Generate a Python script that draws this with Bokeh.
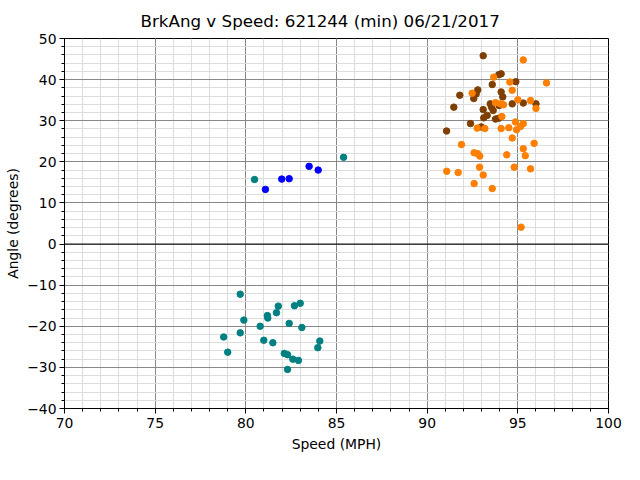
from bokeh.plotting import figure
from bokeh.models import Span, Title, FixedTicker
from bokeh.embed import file_html
from bokeh.resources import INLINE

title_text = "BrkAng v Speed: 621244 (min) 06/21/2017"
x_label = "Speed (MPH)"
y_label = "Angle (degrees)"

x_ticks = [70, 75, 80, 85, 90, 95, 100]
y_ticks = [-40, -30, -20, -10, 0, 10, 20, 30, 40, 50]
x_minor = list(range(70, 101))
y_minor = list(range(-40, 51, 2))

teal_x = [79.69, 81.79, 82.68, 83.0, 81.19, 81.21, 81.69, 79.89, 80.79, 82.39, 83.09,
          78.78, 79.69, 80.99, 81.49, 84.08, 83.97, 79.0, 82.12, 82.3, 82.59, 82.9, 82.3,
          80.48, 85.39]
teal_y = [-12.2, -15.1, -15.0, -14.4, -17.4, -18.0, -16.7, -18.5, -20.0, -19.3, -20.3,
          -22.6, -21.6, -23.4, -24.0, -23.6, -25.2, -26.3, -26.6, -26.9, -28.0, -28.3, -30.5,
          15.7, 21.1]

blue_x = [81.08, 81.98, 82.39, 83.49, 83.99]
blue_y = [13.3, 15.8, 15.9, 18.9, 18.0]

brown_x = [93.09, 93.95, 94.08, 93.59, 94.89, 92.79, 92.70, 92.57, 91.80, 94.08, 94.17,
           91.47, 93.48, 94.69, 95.30, 96.0, 93.55, 93.64, 93.09, 93.97, 93.12, 93.31,
           93.77, 93.95, 92.39, 91.07, 92.99]
brown_y = [45.8, 41.2, 41.4, 38.8, 39.5, 37.5, 36.5, 35.4, 36.2, 37.0, 35.8,
           33.3, 34.1, 34.1, 34.3, 34.1, 33.3, 32.5, 32.7, 33.7, 30.7, 31.3,
           30.4, 30.6, 29.3, 27.5, 28.5]

orange_x = [95.30, 93.67, 94.56, 96.58, 92.48, 94.69, 93.77, 94.03, 94.21, 95.0, 95.70,
            96.0, 94.12, 94.87, 95.3, 95.15, 94.93, 94.69, 92.76, 93.18, 94.08, 94.5,
            91.89, 95.9, 92.59, 92.78, 92.9, 94.39, 95.3, 95.41, 91.08, 91.71, 92.89,
            93.09, 94.80, 95.70, 92.59, 93.59, 95.18]
orange_y = [44.8, 40.6, 39.4, 39.2, 36.7, 37.4, 34.4, 34.1, 33.9, 35.1, 34.9,
            33.0, 31.0, 29.7, 29.3, 28.6, 27.8, 25.8, 28.2, 28.1, 28.1, 28.3,
            24.2, 24.5, 22.2, 22.0, 21.4, 21.7, 23.2, 21.5, 17.7, 17.4, 18.7,
            16.8, 18.7, 18.3, 14.7, 13.5, 4.1]

FONT = "DejaVu Sans"
LBL = "13.9px"

p = figure(width=632, height=472, x_range=(70, 100), y_range=(-40, 50),
           output_backend="svg", toolbar_location=None,
           min_border_left=64, min_border_right=24, min_border_top=38, min_border_bottom=64)
p.background_fill_color = "white"
p.border_fill_color = "white"
p.outline_line_color = "black"
p.outline_line_width = 1

for ax in (p.xaxis[0], p.yaxis[0]):
    ax.axis_line_color = "black"
    ax.major_tick_line_color = "black"
    ax.minor_tick_line_color = "black"
    ax.major_tick_out = 5
    ax.major_tick_in = 0
    ax.minor_tick_out = 3
    ax.minor_tick_in = 0
    ax.major_label_text_font = FONT
    ax.major_label_text_font_size = LBL
    ax.major_label_text_color = "black"
    ax.axis_label_text_font = FONT
    ax.axis_label_text_font_size = LBL
    ax.axis_label_text_font_style = "normal"
    ax.axis_label_text_color = "black"

x_ticker = FixedTicker(ticks=x_ticks, minor_ticks=x_minor)
y_ticker = FixedTicker(ticks=y_ticks, minor_ticks=y_minor)
p.xaxis.ticker = x_ticker
p.yaxis.ticker = y_ticker
p.xgrid.ticker = x_ticker
p.ygrid.ticker = y_ticker
p.xaxis.axis_label = x_label
p.yaxis.axis_label = y_label
p.xaxis.major_label_standoff = 4
p.yaxis.major_label_standoff = 3
p.xaxis.axis_label_standoff = 5
p.yaxis.axis_label_standoff = 3

for g in (p.xgrid[0], p.ygrid[0]):
    g.grid_line_color = "#888888"
    g.grid_line_width = 1
    g.minor_grid_line_color = "#dddddd"
    g.minor_grid_line_width = 1

p.add_layout(Span(location=0, dimension="width", line_color="black", line_width=1))

p.scatter(teal_x, teal_y, size=6.5, color="#008080")
p.scatter(blue_x, blue_y, size=6.5, color="#0000ff")
p.scatter(brown_x, brown_y, size=6.5, color="#7f3f00")
p.scatter(orange_x, orange_y, size=6.5, color="#ff7f00")

p.add_layout(Title(text=title_text, align="left", offset=76, text_font=FONT,
                   text_font_size="16.7px", text_font_style="normal",
                   text_color="black", standoff=16), "above")

open("out.html", "w").write(file_html(p, INLINE))
